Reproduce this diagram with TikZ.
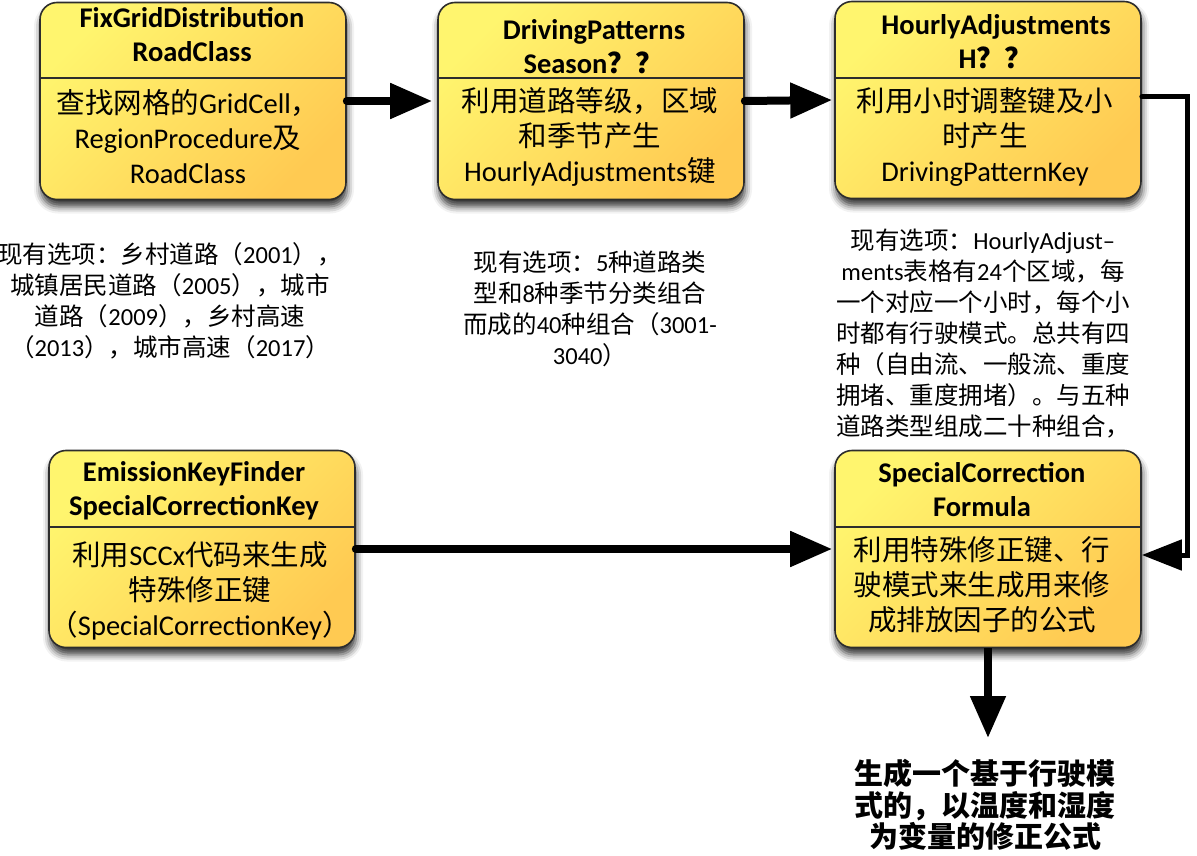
\documentclass[tikz,border=0pt]{standalone}
\usepackage{fontspec}
\setmainfont{Carlito}
\newfontfamily\cjk{Noto Sans CJK SC}
\usetikzlibrary{arrows.meta,shadows.blur}
\newcommand\zh[1]{{\cjk #1}}
\definecolor{boxtop}{RGB}{255,245,110}
\definecolor{boxbot}{RGB}{255,202,82}
\definecolor{boxline}{RGB}{45,45,45}
\tikzset{
  procbox/.style={rounded corners=17pt, draw=boxline, line width=1.6pt,
    top color=boxtop, bottom color=boxbot, shading angle=45,
    blur shadow={shadow xshift=1pt, shadow yshift=-7pt, shadow blur radius=7pt, shadow opacity=80},
    minimum width=306pt, minimum height=197pt, inner sep=0pt},
  divider/.style={draw=boxline, line width=1.1pt},
  titletext/.style={font=\fontsize{28.5}{34}\selectfont\bfseries, align=center, inner sep=0pt},
  bodytext/.style={font=\fontsize{28.5}{35}\selectfont, align=center, inner sep=0pt},
  notetext/.style={font=\fontsize{24.5}{31}\selectfont, align=center, inner sep=0pt},
  resulttext/.style={font=\fontsize{29}{31.5}\selectfont\bfseries, align=center, inner sep=0pt},
  flow/.style={line width=8pt, line cap=round, -{Triangle[length=42pt,width=34pt]}},
  loopflow/.style={line width=5pt, line cap=round, line join=miter, -{Triangle[length=40pt,width=30pt]}},
}
\begin{document}
\begin{tikzpicture}[x=1pt,y=-1pt]
\useasboundingbox (0,0) rectangle (1197,856);

% process boxes
\node[procbox] (b1) at (193,101) {};
\node[procbox] (b2) at (591,101) {};
\node[procbox] (b3) at (988,100) {};
\node[procbox] (b4) at (202,549) {};
\node[procbox] (b5) at (988,549) {};

% title / body separators
\draw[divider] (40,78) -- (346,78);
\draw[divider] (437,78) -- (745,78);
\draw[divider] (835,78) -- (1141,78);
\draw[divider] (49,527) -- (355,527);
\draw[divider] (835,527) -- (1141,527);

% box titles
\node[titletext] (t1) at (192,35) {FixGridDistribution\\RoadClass};
\node[titletext] (t2) at (594,47) {DrivingPatterns\\Season\zh{？？}};
\node[titletext] (t3) at (996,42) {HourlyAdjustments\\H\zh{？？}};
\node[titletext] (t4) at (194,491) {EmissionKeyFinder\\SpecialCorrectionKey};
\node[titletext] (t5) at (982,490) {SpecialCorrection\\Formula};

% box bodies
\node[bodytext] (d1) at (188,137) {\zh{查找网格的}GridCell\zh{，}\\RegionProcedure\zh{及}\\RoadClass};
\node[bodytext] (d2) at (590,137) {\zh{利用道路等级，区域}\\\zh{和季节产生}\\HourlyAdjustments\zh{键}};
\node[bodytext] (d3) at (985,137) {\zh{利用小时调整键及小}\\\zh{时产生}\\DrivingPatternKey};
\node[bodytext] (d4) at (200,591) {\zh{利用}SCCx\zh{代码来生成}\\\zh{特殊修正键}\\\zh{（}SpecialCorrectionKey\zh{）}};
\node[bodytext] (d5) at (982,585) {\zh{利用特殊修正键、行}\\\zh{驶模式来生成用来修}\\\zh{成排放因子的公式}};

% notes
\node[notetext] (n1) at (170,301) {\zh{现有选项：乡村道路（}2001\zh{），}\\\zh{城镇居民道路（}2005\zh{），城市}\\\zh{道路（}2009\zh{），乡村高速}\\\zh{（}2013\zh{），城市高速（}2017\zh{）}};
\node[notetext] (n2) at (590,309) {\zh{现有选项：}5\zh{种道路类}\\\zh{型和}8\zh{种季节分类组合}\\\zh{而成的}40\zh{种组合（}3001-\\3040\zh{）}};
\node[notetext] (n3) at (983,334) {\zh{现有选项：}HourlyAdjust–\\ments\zh{表格有}24\zh{个区域，每}\\\zh{一个对应一个小时，每个小}\\\zh{时都有行驶模式。总共有四}\\\zh{种（自由流、一般流、重度}\\\zh{拥堵、重度拥堵）。与五种}\\\zh{道路类型组成二十种组合，}};

% result
\node[resulttext] (r) at (985,805) {\zh{生成一个基于行驶模}\\\zh{式的，以温度和湿度}\\\zh{为变量的修正公式}};
\coordinate (rtip) at (988,738);

% connectors
\draw[flow, shorten >=5pt] (b1.east) -- (b2.west);
\draw[flow, shorten >=2pt] (b2.east) -- (b3.west);
\draw[flow, shorten >=2pt] (b4.east) -- (b5.west);
\draw[loopflow] ([yshift=3pt]b3.east) -- ++(46,0) |- ([yshift=-6pt]b5.east);
\draw[flow, line cap=butt] (b5.south) -- (rtip);
\end{tikzpicture}
\end{document}
